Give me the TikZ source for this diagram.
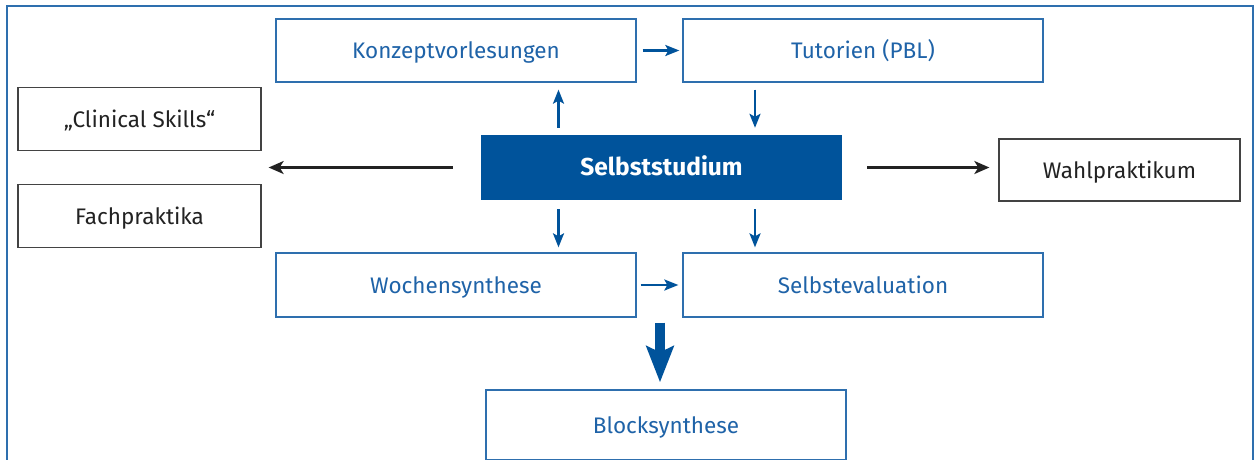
\documentclass[tikz,border=0pt]{standalone}
\usepackage{fontspec}
\setmainfont{Fira Sans}
\usetikzlibrary{arrows.meta}
\definecolor{dblue}{HTML}{00539B}
\definecolor{lblue}{HTML}{2E6FAE}
\definecolor{tblue}{HTML}{1F63A8}
\definecolor{dgray}{HTML}{222222}
\tikzset{
  txt/.style={text height=18pt, text depth=2pt, font=\fontsize{22.5}{26}\selectfont},
  bluebox/.style={txt, draw=lblue, line width=1.3pt, text=tblue, minimum width=360pt, minimum height=63pt, inner sep=0pt},
  greybox/.style={txt, draw=dgray!85, line width=1.3pt, text=dgray, minimum width=243pt, minimum height=63pt, inner sep=0pt},
  mainbox/.style={fill=dblue, text=white, minimum width=361pt, minimum height=65pt, inner sep=0pt, text height=19pt, text depth=3pt, font=\bfseries\fontsize{24.5}{28}\selectfont},
  barrow/.style={draw=dblue, line width=2.4pt, -{Stealth[length=14pt,width=11pt,inset=3pt]}},
  karrow/.style={draw=dgray, line width=2.2pt, -{Stealth[length=15pt,width=13pt,inset=4pt]}},
  bigarrow/.style={draw=dblue, line width=10pt, -{Stealth[length=36pt,width=27pt,inset=6pt]}}
}
\begin{document}
\begin{tikzpicture}[x=1pt,y=-1pt]
\useasboundingbox (0,0) rectangle (1258,459);
\clip (0,0) rectangle (1258,459);
\fill[white] (0,0) rectangle (1258,459);
\draw[lblue, line width=1.6pt] (7,470) -- (7,6) -- (1253,6) -- (1253,470);

\node[bluebox] (konz) at (456,50.5) {Konzeptvorlesungen};
\node[bluebox] (tut) at (863,50.5) {Tutorien (PBL)};
\node[greybox] (clin) at (139.5,119) {„Clinical Skills“};
\node[greybox] (fach) at (139.5,216) {Fachpraktika};
\node[mainbox] (selb) at (661.5,167.5) {Selbststudium};
\node[greybox, minimum width=241pt, minimum height=62pt] (wahl) at (1119.5,170) {Wahlpraktikum};
\node[bluebox, minimum height=64pt] (woch) at (456,285) {Wochensynthese};
\node[bluebox, minimum height=64pt] (seval) at (863,285) {Selbstevaluation};
\node[bluebox, minimum height=70pt] (block) at (666,425) {Blocksynthese};

% blue arrows
\draw[barrow] ([xshift=6pt]konz.east) -- ([xshift=-3pt]tut.west);
\draw[barrow] ([xshift=-103pt,yshift=7pt]selb.north) -- ([xshift=-103pt,yshift=-7pt]selb.north |- konz.south);
\draw[barrow] ([xshift=-108pt,yshift=-7pt]tut.south) -- ([xshift=-108pt,yshift=7pt]tut.south |- selb.north);
\draw[barrow] ([xshift=-103pt,yshift=-9pt]selb.south) -- ([xshift=-103pt,yshift=5pt]selb.south |- woch.north);
\draw[barrow] ([xshift=-108pt,yshift=-9pt]selb.south -| tut.south) -- ([xshift=-108pt,yshift=5pt]seval.north);
\draw[barrow] ([xshift=4pt]woch.east) -- ([xshift=-4pt]seval.west);
% black arrows
\draw[karrow] ([xshift=-28pt]selb.west) -- ([xshift=7pt]clin.south east |- selb.west);
\draw[karrow] ([xshift=25pt]selb.east) -- ([xshift=-9pt]wahl.west |- selb.east);
% big arrow
\draw[bigarrow] ([xshift=-6pt,yshift=-5pt]block.north |- woch.south) -- ([xshift=-6pt,yshift=7pt]block.north);
\end{tikzpicture}
\end{document}
